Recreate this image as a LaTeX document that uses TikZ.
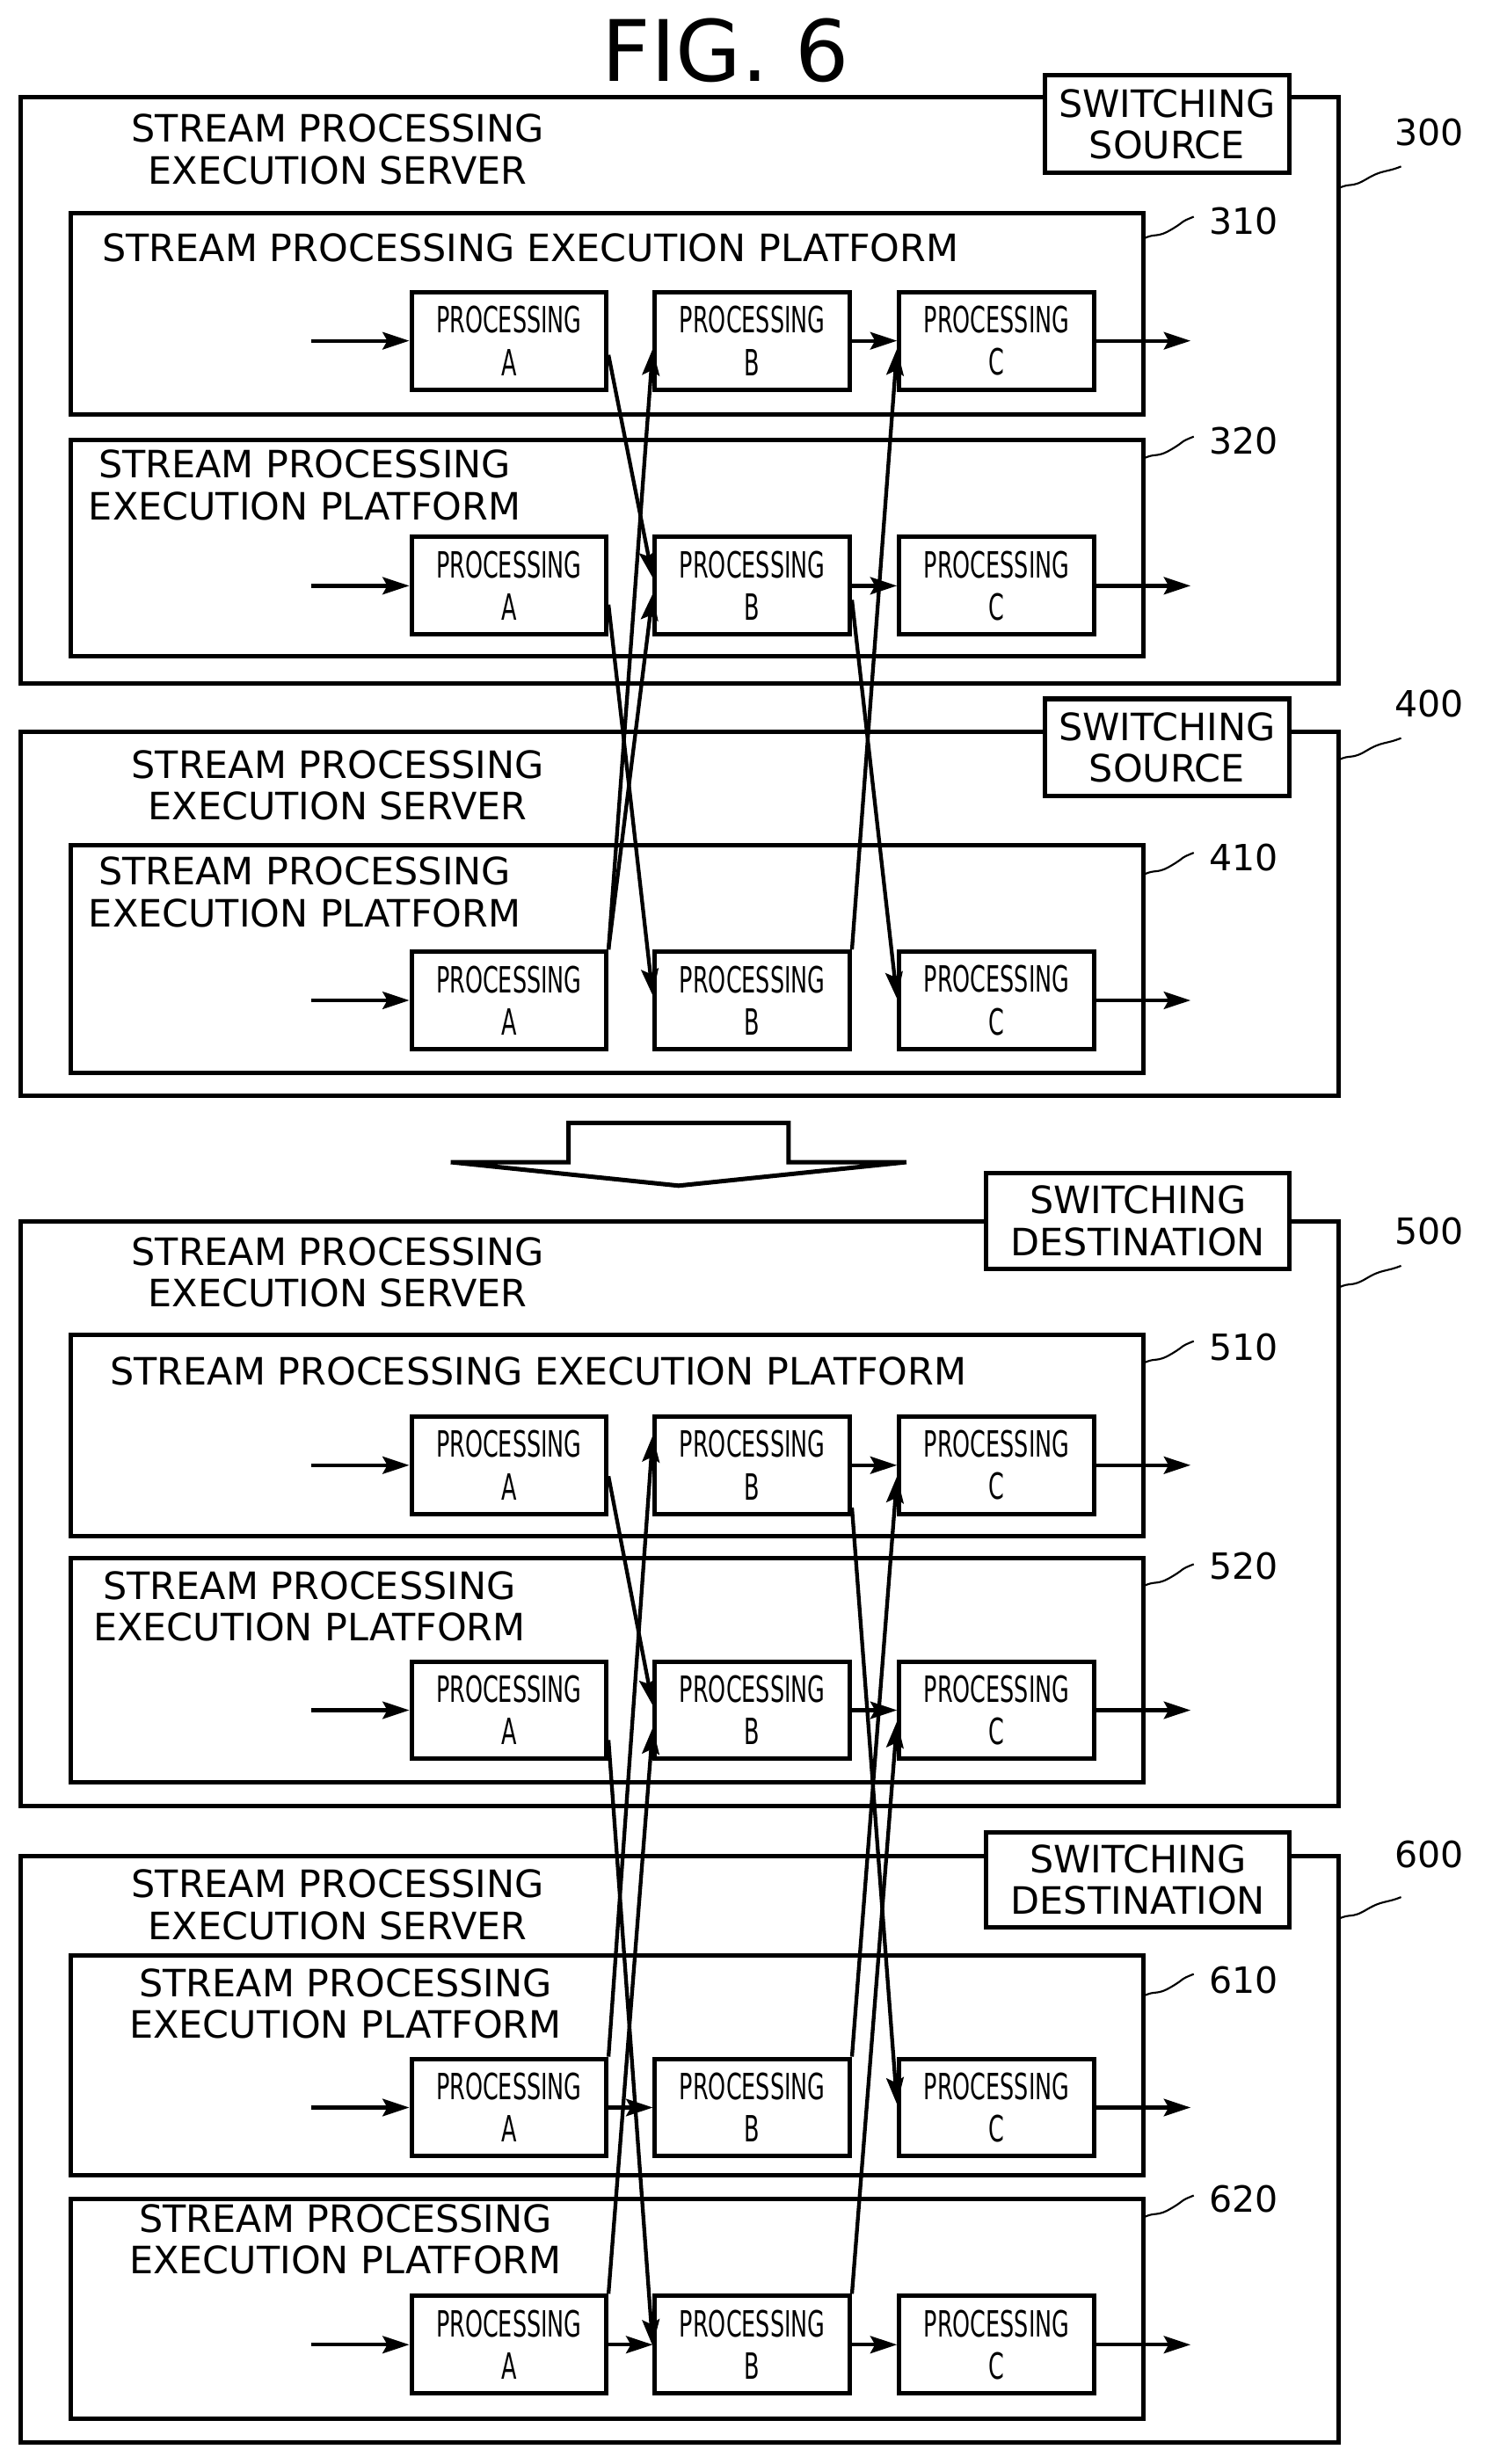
\documentclass[tikz,border=0pt]{standalone}
\usepackage{fontspec}
\setmainfont{DejaVu Sans}
\usetikzlibrary{arrows.meta,calc}
\begin{document}
\begin{tikzpicture}[x=1pt,y=-1pt,
  lw/.style={line width=2.8pt},
  box/.style={draw,lw},
  proc/.style={draw,lw,minimum width=124pt,minimum height=62pt,inner sep=0pt,align=center,font=\fontsize{23}{27}\selectfont},
  arr/.style={line width=2.4pt,-{Stealth[length=17pt,width=11pt,inset=3pt]}},
  lbl/.style={font=\fontsize{24}{26.5}\selectfont,align=center,inner sep=0pt},
  num/.style={font=\fontsize{23}{26}\selectfont,inner sep=0pt},
  sq/.style={line width=1.2pt}]
\useasboundingbox (0,0) rectangle (945,1569);
\newcommand\pt[1]{\scalebox{0.62}[1]{PROCESSING}\\\scalebox{0.62}[1]{#1}}
\newcommand\prow[2]{%
  \node[proc] (#1a) at (324,#2) {\pt{A}};
  \node[proc] (#1b) at (479,#2) {\pt{B}};
  \node[proc] (#1c) at (634.5,#2) {\pt{C}};
  \coordinate (#1in) at (198,#2);
  \coordinate (#1out) at (758,#2);
  \draw[arr] (#1in) -- (#1a.west);
  \draw[arr] (#1c.east) -- (#1out);}
\newcommand\sqg[3]{\draw[sq] (#1,#2) .. controls +(8,-4) and +(-10,6) .. +(18,-6) .. controls +(10,-6) and +(-10,4) .. +(#3,-14);}

\node[font=\fontsize{54}{60}\selectfont] (title) at (462,32) {FIG. 6};

% server 300
\draw[box] (13,62) rectangle (852,435);
\node[lbl] (s300) at (215,95) {STREAM PROCESSING\\EXECUTION SERVER};
\node[draw,lw,lbl,minimum width=156pt,minimum height=62pt,fill=white] (sw1) at (743,79) {SWITCHING\\SOURCE};
\node[num] (n300) at (910,84) {300}; \sqg{852}{120}{40}
\draw[box] (45,136) rectangle (728,264);
\node[lbl,anchor=west] (t310) at (65,158) {STREAM PROCESSING EXECUTION PLATFORM};
\node[num] (n310) at (792,141) {310}; \sqg{728}{152}{32}
\prow{p310}{217}
\draw[box] (45,280) rectangle (728,418);
\node[lbl] (t320) at (194,309) {STREAM PROCESSING\\EXECUTION PLATFORM};
\node[num] (n320) at (792,281) {320}; \sqg{728}{292}{32}
\prow{p320}{373}

% server 400
\draw[box] (13,466) rectangle (852,698);
\node[lbl] (s400) at (215,500) {STREAM PROCESSING\\EXECUTION SERVER};
\node[draw,lw,lbl,minimum width=156pt,minimum height=62pt,fill=white] (sw2) at (743,476) {SWITCHING\\SOURCE};
\node[num] (n400) at (910,448) {400}; \sqg{852}{484}{40}
\draw[box] (45,538) rectangle (728,683);
\node[lbl] (t410) at (194,568) {STREAM PROCESSING\\EXECUTION PLATFORM};
\node[num] (n410) at (792,546) {410}; \sqg{728}{557}{32}
\prow{p410}{637}

\draw[arr] (p310b.east) -- (p310c.west);
\draw[arr] (p320b.east) -- (p320c.west);
\draw[arr] ([yshift=-9pt]p310a.east) -- ([yshift=5pt]p320b.west);
\draw[arr] (p410a.north east) -- ([yshift=-5pt]p310b.west);
\draw[arr] (p410a.north east) -- ([yshift=-5pt]p320b.west);
\draw[arr] ([yshift=-12pt]p320a.east) -- ([yshift=3pt]p410b.west);
\draw[arr] ([yshift=-9pt]p320b.east) -- ([yshift=1pt]p410c.west);
\draw[arr] (p410b.north east) -- ([yshift=-5pt]p310c.west);

% big arrow
\draw[lw,fill=white] (362,715) -- (502,715) -- (502,740) -- (577,740) -- (432,755) -- (287,740) -- (362,740) -- cycle;

% server 500
\draw[box] (13,778) rectangle (852,1150);
\node[lbl] (s500) at (215,810) {STREAM PROCESSING\\EXECUTION SERVER};
\node[draw,lw,lbl,minimum width=193pt,minimum height=61pt,fill=white] (sw3) at (724.5,777.5) {SWITCHING\\DESTINATION};
\node[num] (n500) at (910,784) {500}; \sqg{852}{820}{40}
\draw[box] (45,850) rectangle (728,978);
\node[lbl,anchor=west] (t510) at (70,873) {STREAM PROCESSING EXECUTION PLATFORM};
\node[num] (n510) at (792,858) {510}; \sqg{728}{868}{32}
\prow{p510}{933}
\draw[box] (45,992) rectangle (728,1135);
\node[lbl] (t520) at (197,1023) {STREAM PROCESSING\\EXECUTION PLATFORM};
\node[num] (n520) at (792,997) {520}; \sqg{728}{1010}{32}
\prow{p520}{1089}

% server 600
\draw[box] (13,1182) rectangle (852,1555);
\node[lbl] (s600) at (215,1213) {STREAM PROCESSING\\EXECUTION SERVER};
\node[draw,lw,lbl,minimum width=193pt,minimum height=60pt,fill=white] (sw4) at (724.5,1197) {SWITCHING\\DESTINATION};
\node[num] (n600) at (910,1181) {600}; \sqg{852}{1222}{40}
\draw[box] (45,1245) rectangle (728,1385);
\node[lbl] (t610) at (220,1276) {STREAM PROCESSING\\EXECUTION PLATFORM};
\node[num] (n610) at (792,1261) {610}; \sqg{728}{1271}{32}
\prow{p610}{1342}
\draw[box] (45,1400) rectangle (728,1540);
\node[lbl] (t620) at (220,1426) {STREAM PROCESSING\\EXECUTION PLATFORM};
\node[num] (n620) at (792,1400) {620}; \sqg{728}{1412}{32}
\prow{p620}{1493}

\draw[arr] (p510b.east) -- (p510c.west);
\draw[arr] (p520b.east) -- (p520c.west);
\draw[arr] (p610a.east) -- (p610b.west);
\draw[arr] (p620a.east) -- (p620b.west);
\draw[arr] (p620b.east) -- (p620c.west);
\draw[arr] ([yshift=-7pt]p510a.east) -- ([yshift=3pt]p520b.west);
\draw[arr] ([yshift=-19pt]p520a.east) -- ([yshift=-1pt]p620b.west);
\draw[arr] (p610a.north east) -- ([yshift=19pt]p510b.west);
\draw[arr] (p620a.north east) -- ([yshift=-11pt]p520b.west);
\draw[arr] ([yshift=-27pt]p510b.east) -- ([yshift=2pt]p610c.west);
\draw[arr] (p610b.north east) -- ([yshift=-7pt]p510c.west);
\draw[arr] (p620b.north east) -- ([yshift=-7pt]p520c.west);
\end{tikzpicture}
\end{document}
